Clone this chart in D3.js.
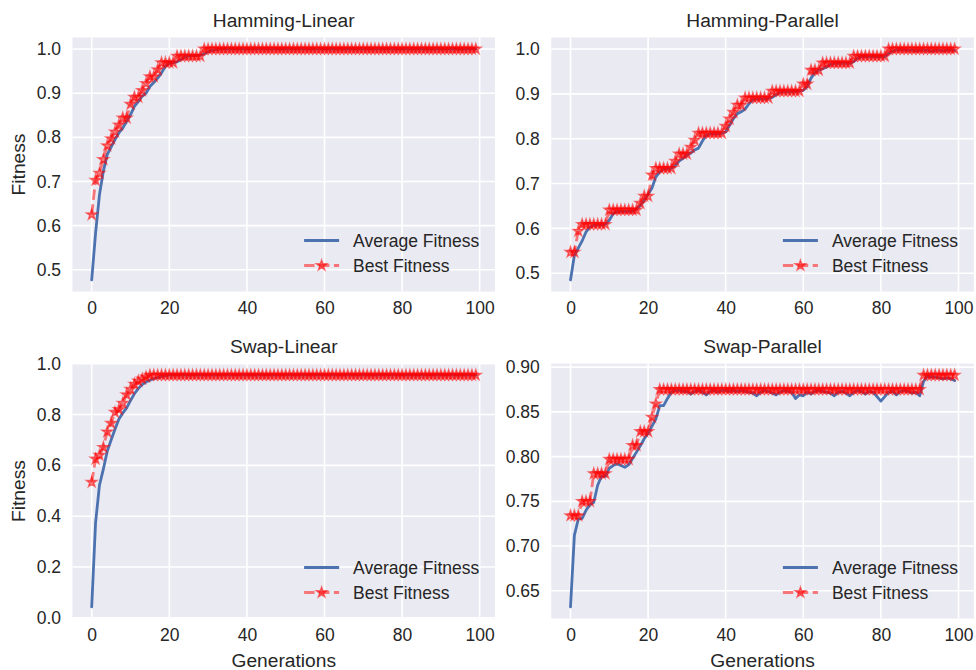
<!DOCTYPE html>
<html>
<head>
<meta charset="utf-8">
<script src="https://cdn.jsdelivr.net/npm/d3@7"></script>
<style>
  body { margin: 0; background: #ffffff; }
  svg { display: block; }
  text { font-family: "Liberation Sans", Arial, sans-serif; }
</style>
</head>
<body>
<svg id="chart" width="976" height="670"></svg>
<script>
// ---- data -------------------------------------------------------------
const generations = d3.range(0, 100);
const xTicks = [0, 20, 40, 60, 80, 100];

const titles = ["Hamming-Linear", "Hamming-Parallel", "Swap-Linear", "Swap-Parallel"];
const seriesNames = ["Average Fitness", "Best Fitness"];
const yLabel = "Fitness";
const xLabel = "Generations";

const hammingLinearAvg = [
  0.477, 0.583, 0.670, 0.723, 0.761, 0.778, 0.795, 0.810, 0.821, 0.836,
  0.851, 0.870, 0.881, 0.893, 0.900, 0.915, 0.924, 0.934, 0.946, 0.961,
  0.968, 0.969, 0.971, 0.976, 0.982, 0.984, 0.985, 0.985, 0.986, 0.989,
  0.994, 0.997, 0.999, 1.000, 1.000, 1.000, 1.000, 1.000, 1.000, 1.000,
  1.000, 1.000, 1.000, 1.000, 1.000, 1.000, 1.000, 1.000, 1.000, 1.000,
  1.000, 1.000, 1.000, 1.000, 1.000, 1.000, 1.000, 1.000, 1.000, 1.000,
  1.000, 1.000, 1.000, 1.000, 1.000, 1.000, 1.000, 1.000, 1.000, 1.000,
  1.000, 1.000, 1.000, 1.000, 1.000, 1.000, 1.000, 1.000, 1.000, 1.000,
  1.000, 1.000, 1.000, 1.000, 1.000, 1.000, 1.000, 1.000, 1.000, 1.000,
  1.000, 1.000, 1.000, 1.000, 1.000, 1.000, 1.000, 1.000, 1.000, 1.000
];
const hammingLinearBest = [
  0.625, 0.703, 0.719, 0.750, 0.781, 0.797, 0.8125, 0.828, 0.844, 0.844,
  0.875, 0.891, 0.891, 0.906, 0.922, 0.9375, 0.9375, 0.953, 0.969, 0.969,
  0.969, 0.969, 0.984, 0.984, 0.984, 0.984, 0.984, 0.984, 0.984, 1.000,
  1.000, 1.000, 1.000, 1.000, 1.000, 1.000, 1.000, 1.000, 1.000, 1.000,
  1.000, 1.000, 1.000, 1.000, 1.000, 1.000, 1.000, 1.000, 1.000, 1.000,
  1.000, 1.000, 1.000, 1.000, 1.000, 1.000, 1.000, 1.000, 1.000, 1.000,
  1.000, 1.000, 1.000, 1.000, 1.000, 1.000, 1.000, 1.000, 1.000, 1.000,
  1.000, 1.000, 1.000, 1.000, 1.000, 1.000, 1.000, 1.000, 1.000, 1.000,
  1.000, 1.000, 1.000, 1.000, 1.000, 1.000, 1.000, 1.000, 1.000, 1.000,
  1.000, 1.000, 1.000, 1.000, 1.000, 1.000, 1.000, 1.000, 1.000, 1.000
];

const hammingParallelAvg = [
  0.485, 0.540, 0.556, 0.572, 0.592, 0.603, 0.607, 0.608, 0.608, 0.609,
  0.618, 0.633, 0.637, 0.638, 0.638, 0.638, 0.638, 0.643, 0.651, 0.663,
  0.676, 0.690, 0.715, 0.726, 0.732, 0.733, 0.734, 0.740, 0.750, 0.756,
  0.763, 0.768, 0.775, 0.779, 0.795, 0.808, 0.811, 0.811, 0.811, 0.812,
  0.815, 0.830, 0.845, 0.856, 0.860, 0.866, 0.878, 0.887, 0.889, 0.889,
  0.889, 0.890, 0.892, 0.898, 0.904, 0.905, 0.905, 0.905, 0.905, 0.906,
  0.908, 0.916, 0.935, 0.948, 0.953, 0.956, 0.960, 0.966, 0.968, 0.968,
  0.968, 0.968, 0.968, 0.972, 0.980, 0.983, 0.983, 0.983, 0.983, 0.983,
  0.983, 0.983, 0.990, 0.995, 0.998, 0.999, 0.998, 0.997, 0.998, 0.996,
  0.997, 0.998, 0.997, 0.995, 0.997, 0.998, 0.996, 0.997, 0.998, 0.997
];
const hammingParallelBest = [
  0.547, 0.547, 0.594, 0.609, 0.609, 0.609, 0.609, 0.609, 0.609, 0.609,
  0.641, 0.641, 0.641, 0.641, 0.641, 0.641, 0.641, 0.641, 0.656, 0.672,
  0.672, 0.719, 0.734, 0.734, 0.734, 0.734, 0.734, 0.750, 0.766, 0.766,
  0.766, 0.781, 0.797, 0.8125, 0.8125, 0.8125, 0.8125, 0.8125, 0.8125, 0.8125,
  0.828, 0.844, 0.859, 0.875, 0.875, 0.891, 0.891, 0.891, 0.891, 0.891,
  0.891, 0.891, 0.906, 0.906, 0.906, 0.906, 0.906, 0.906, 0.906, 0.906,
  0.922, 0.922, 0.953, 0.953, 0.953, 0.969, 0.969, 0.969, 0.969, 0.969,
  0.969, 0.969, 0.969, 0.984, 0.984, 0.984, 0.984, 0.984, 0.984, 0.984,
  0.984, 0.984, 1.000, 1.000, 1.000, 1.000, 1.000, 1.000, 1.000, 1.000,
  1.000, 1.000, 1.000, 1.000, 1.000, 1.000, 1.000, 1.000, 1.000, 1.000
];

const swapLinearAvg = [
  0.043, 0.375, 0.522, 0.585, 0.655, 0.700, 0.742, 0.782, 0.806, 0.826,
  0.855, 0.882, 0.902, 0.918, 0.928, 0.935, 0.941, 0.946, 0.950, 0.953,
  0.955, 0.955, 0.955, 0.955, 0.955, 0.955, 0.955, 0.955, 0.955, 0.955,
  0.955, 0.955, 0.955, 0.955, 0.955, 0.955, 0.955, 0.955, 0.955, 0.955,
  0.955, 0.955, 0.955, 0.955, 0.955, 0.955, 0.955, 0.955, 0.955, 0.955,
  0.955, 0.955, 0.955, 0.955, 0.955, 0.955, 0.955, 0.955, 0.955, 0.955,
  0.955, 0.955, 0.955, 0.955, 0.955, 0.955, 0.955, 0.955, 0.955, 0.955,
  0.955, 0.955, 0.955, 0.955, 0.955, 0.955, 0.955, 0.955, 0.955, 0.955,
  0.955, 0.955, 0.955, 0.955, 0.955, 0.955, 0.955, 0.955, 0.955, 0.955,
  0.955, 0.955, 0.955, 0.955, 0.955, 0.955, 0.955, 0.955, 0.955, 0.955
];
const swapLinearBest = [
  0.534, 0.625, 0.640, 0.671, 0.732, 0.766, 0.809, 0.820, 0.845, 0.878,
  0.900, 0.920, 0.932, 0.940, 0.948, 0.955, 0.955, 0.955, 0.955, 0.955,
  0.955, 0.955, 0.955, 0.955, 0.955, 0.955, 0.955, 0.955, 0.955, 0.955,
  0.955, 0.955, 0.955, 0.955, 0.955, 0.955, 0.955, 0.955, 0.955, 0.955,
  0.955, 0.955, 0.955, 0.955, 0.955, 0.955, 0.955, 0.955, 0.955, 0.955,
  0.955, 0.955, 0.955, 0.955, 0.955, 0.955, 0.955, 0.955, 0.955, 0.955,
  0.955, 0.955, 0.955, 0.955, 0.955, 0.955, 0.955, 0.955, 0.955, 0.955,
  0.955, 0.955, 0.955, 0.955, 0.955, 0.955, 0.955, 0.955, 0.955, 0.955,
  0.955, 0.955, 0.955, 0.955, 0.955, 0.955, 0.955, 0.955, 0.955, 0.955,
  0.955, 0.955, 0.955, 0.955, 0.955, 0.955, 0.955, 0.955, 0.955, 0.955
];

const swapParallelAvg = [
  0.632, 0.712, 0.730, 0.731, 0.740, 0.746, 0.749, 0.768, 0.778, 0.778,
  0.787, 0.790, 0.792, 0.790, 0.788, 0.791, 0.798, 0.805, 0.812, 0.820,
  0.826, 0.834, 0.842, 0.857, 0.857, 0.865, 0.872, 0.874, 0.874, 0.873,
  0.873, 0.870, 0.873, 0.874, 0.872, 0.869, 0.873, 0.874, 0.872, 0.874,
  0.874, 0.873, 0.874, 0.873, 0.874, 0.873, 0.872, 0.871, 0.868, 0.872,
  0.874, 0.873, 0.871, 0.869, 0.872, 0.874, 0.873, 0.872, 0.865, 0.869,
  0.868, 0.872, 0.870, 0.873, 0.874, 0.873, 0.872, 0.871, 0.868, 0.872,
  0.873, 0.871, 0.868, 0.872, 0.874, 0.873, 0.870, 0.873, 0.872, 0.867,
  0.862, 0.867, 0.872, 0.873, 0.869, 0.873, 0.874, 0.873, 0.871, 0.872,
  0.868, 0.884, 0.890, 0.889, 0.889, 0.888, 0.887, 0.888, 0.887, 0.885
];
const swapParallelBest = [
  0.734, 0.734, 0.734, 0.750, 0.750, 0.750, 0.781, 0.781, 0.781, 0.781,
  0.797, 0.797, 0.797, 0.797, 0.797, 0.797, 0.8125, 0.8125, 0.828, 0.828,
  0.828, 0.844, 0.859, 0.875, 0.875, 0.875, 0.875, 0.875, 0.875, 0.875,
  0.875, 0.875, 0.875, 0.875, 0.875, 0.875, 0.875, 0.875, 0.875, 0.875,
  0.875, 0.875, 0.875, 0.875, 0.875, 0.875, 0.875, 0.875, 0.875, 0.875,
  0.875, 0.875, 0.875, 0.875, 0.875, 0.875, 0.875, 0.875, 0.875, 0.875,
  0.875, 0.875, 0.875, 0.875, 0.875, 0.875, 0.875, 0.875, 0.875, 0.875,
  0.875, 0.875, 0.875, 0.875, 0.875, 0.875, 0.875, 0.875, 0.875, 0.875,
  0.875, 0.875, 0.875, 0.875, 0.875, 0.875, 0.875, 0.875, 0.875, 0.875,
  0.875, 0.891, 0.891, 0.891, 0.891, 0.891, 0.891, 0.891, 0.891, 0.891
];

const hammingTicks = [0.5, 0.6, 0.7, 0.8, 0.9, 1.0];
const swapLinearTicks = [0.0, 0.2, 0.4, 0.6, 0.8, 1.0];
const swapParallelTicks = [0.65, 0.70, 0.75, 0.80, 0.85, 0.90];

// ---- layout & style ---------------------------------------------------
const cols = [[72.5, 495], [551.3, 973.8]];
const rows = [[37.5, 291.5], [363.6, 618.5]];
const FONT = 17.5;        // tick labels, legend
const TITLE_FONT = 19.2;  // titles, axis labels
const TEXT = "#262626";
const BG = "#EAEAF2";
const BLUE = "#4C72B0";
const RED = "#FF0000";
const LW = 2.8;
const DASH = "10.4,4.5";
const STAR_R = 5.6;
const starPath = d3.symbol(d3.symbolStar, STAR_R * STAR_R / 0.8908130915292852)();

const panels = [
  { title: titles[0], avg: hammingLinearAvg,   best: hammingLinearBest,   ticks: hammingTicks,      fmt: ".1f", col: 0, row: 0 },
  { title: titles[1], avg: hammingParallelAvg, best: hammingParallelBest, ticks: hammingTicks,      fmt: ".1f", col: 1, row: 0 },
  { title: titles[2], avg: swapLinearAvg,      best: swapLinearBest,      ticks: swapLinearTicks,   fmt: ".1f", col: 0, row: 1 },
  { title: titles[3], avg: swapParallelAvg,    best: swapParallelBest,    ticks: swapParallelTicks, fmt: ".2f", col: 1, row: 1 }
];

const svg = d3.select("#chart");

function drawStars(sel, pts) {
  sel.selectAll("path.star").data(pts).join("path")
    .attr("class", "star")
    .attr("d", starPath)
    .attr("transform", d => `translate(${d[0]},${d[1]})`)
    .attr("fill", RED).attr("fill-opacity", 0.5)
    .attr("stroke", RED).attr("stroke-opacity", 0.5).attr("stroke-width", 1.4);
}

panels.forEach((p, k) => {
  const [left, right] = cols[p.col];
  const [top, bottom] = rows[p.row];

  const x = d3.scaleLinear().domain([-4.95, 103.95]).range([left, right]);
  const all = p.avg.concat(p.best);
  const lo = d3.min(all), hi = d3.max(all), pad = (hi - lo) * 0.05;
  const y = d3.scaleLinear().domain([lo - pad, hi + pad]).range([bottom, top]);

  const g = svg.append("g");

  g.append("rect")
    .attr("x", left).attr("y", top)
    .attr("width", right - left).attr("height", bottom - top)
    .attr("fill", BG);

  // grid
  g.append("g").selectAll("line").data(xTicks).join("line")
    .attr("x1", d => x(d)).attr("x2", d => x(d))
    .attr("y1", top).attr("y2", bottom)
    .attr("stroke", "#ffffff").attr("stroke-width", 1.6);
  g.append("g").selectAll("line").data(p.ticks).join("line")
    .attr("y1", d => y(d)).attr("y2", d => y(d))
    .attr("x1", left).attr("x2", right)
    .attr("stroke", "#ffffff").attr("stroke-width", 1.6);

  // axes (labels only)
  const xa = g.append("g")
    .attr("transform", `translate(0,${bottom})`)
    .call(d3.axisBottom(x).tickValues(xTicks).tickSize(0).tickPadding(10).tickFormat(d3.format("d")));
  const ya = g.append("g")
    .attr("transform", `translate(${left},0)`)
    .call(d3.axisLeft(y).tickValues(p.ticks).tickSize(0).tickPadding(11.5).tickFormat(d3.format(p.fmt)));
  [xa, ya].forEach(a => {
    a.select(".domain").remove();
    a.attr("font-family", null).attr("font-size", FONT).attr("color", TEXT);
    a.selectAll("text").attr("fill", TEXT);
  });

  // title
  g.append("text")
    .attr("x", (left + right) / 2).attr("y", top - 10.5)
    .attr("text-anchor", "middle")
    .attr("font-size", TITLE_FONT).attr("fill", TEXT)
    .text(p.title);

  if (p.col === 0) {
    g.append("text")
      .attr("transform", `translate(25,${(top + bottom) / 2}) rotate(-90)`)
      .attr("text-anchor", "middle")
      .attr("font-size", TITLE_FONT).attr("fill", TEXT)
      .text(yLabel);
  }
  if (p.row === 1) {
    g.append("text")
      .attr("x", (left + right) / 2).attr("y", 666.5)
      .attr("text-anchor", "middle")
      .attr("font-size", TITLE_FONT).attr("fill", TEXT)
      .text(xLabel);
  }

  // series
  const clipId = "clip" + k;
  svg.append("clipPath").attr("id", clipId)
    .append("rect").attr("x", left).attr("y", top)
    .attr("width", right - left).attr("height", bottom - top);

  const plot = g.append("g").attr("clip-path", `url(#${clipId})`);
  const line = d3.line().x((d, i) => x(generations[i])).y(d => y(d));

  plot.append("path")
    .attr("d", line(p.avg))
    .attr("fill", "none").attr("stroke", BLUE).attr("stroke-width", LW)
    .attr("stroke-linejoin", "round").attr("stroke-linecap", "round");

  plot.append("path")
    .attr("d", line(p.best))
    .attr("fill", "none").attr("stroke", RED).attr("stroke-opacity", 0.5)
    .attr("stroke-width", LW).attr("stroke-dasharray", DASH);

  drawStars(plot.append("g"), p.best.map((v, i) => [x(generations[i]), y(v)]));

  // legend (lower right)
  const leg = g.append("g");
  const bestCy = bottom - 26;
  const avgCy = bestCy - 25;
  const labels = leg.selectAll("text").data(seriesNames).join("text")
    .attr("font-size", FONT).attr("fill", TEXT)
    .attr("dy", "0.35em")
    .attr("y", (d, i) => i === 0 ? avgCy : bestCy)
    .text(d => d);
  const maxW = d3.max(labels.nodes(), n => n.getComputedTextLength());
  const textX = right - 0.9 * FONT - maxW;
  labels.attr("x", textX);
  const hx1 = textX - 0.8 * FONT, hx0 = hx1 - 2 * FONT;

  leg.append("line")
    .attr("x1", hx0).attr("x2", hx1).attr("y1", avgCy).attr("y2", avgCy)
    .attr("stroke", BLUE).attr("stroke-width", LW);
  leg.append("line")
    .attr("x1", hx0).attr("x2", hx1).attr("y1", bestCy).attr("y2", bestCy)
    .attr("stroke", RED).attr("stroke-opacity", 0.5)
    .attr("stroke-width", LW).attr("stroke-dasharray", DASH);
  drawStars(leg.append("g"), [[(hx0 + hx1) / 2, bestCy]]);
});
</script>
</body>
</html>
